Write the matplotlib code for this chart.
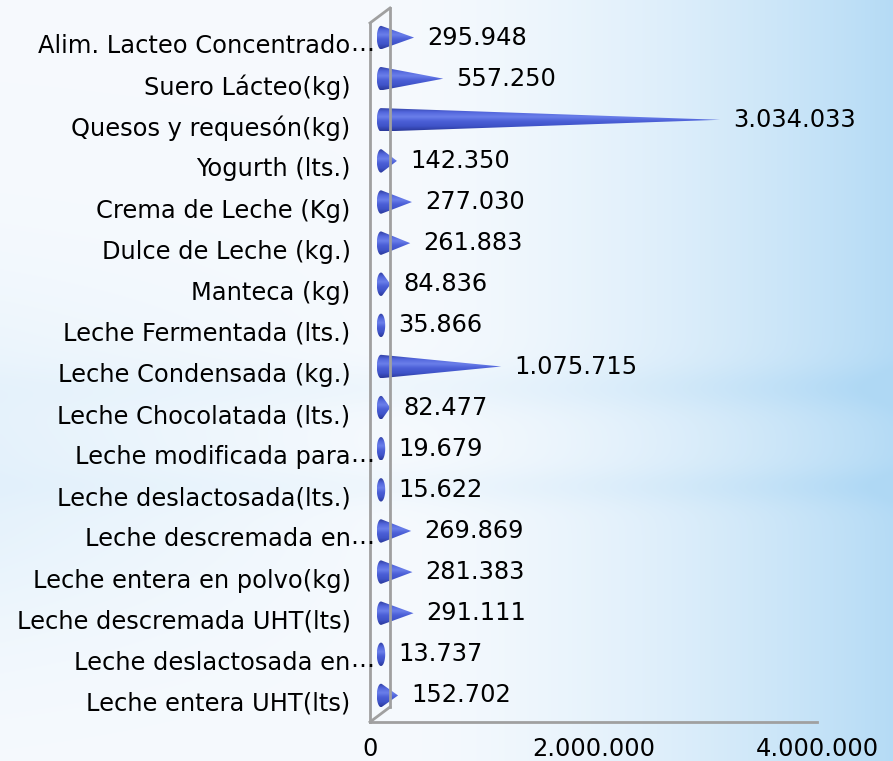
import numpy as np
import matplotlib
matplotlib.use("Agg")
import matplotlib.pyplot as plt
from matplotlib.colors import LinearSegmentedColormap
from matplotlib.patches import Polygon
from matplotlib.transforms import offset_copy

# data (bottom to top, as drawn)
productos = [
    "Leche entera UHT(lts)",
    "Leche deslactosada en…",
    "Leche descremada UHT(lts)",
    "Leche entera en polvo(kg)",
    "Leche descremada en…",
    "Leche deslactosada(lts.)",
    "Leche modificada para…",
    "Leche Chocolatada (lts.)",
    "Leche Condensada (kg.)",
    "Leche Fermentada (lts.)",
    "Manteca (kg)",
    "Dulce de Leche (kg.)",
    "Crema de Leche (Kg)",
    "Yogurth (lts.)",
    "Quesos y requesón(kg)",
    "Suero Lácteo(kg)",
    "Alim. Lacteo Concentrado…",
]
valores = [152702, 13737, 291111, 281383, 269869, 15622, 19679, 82477,
           1075715, 35866, 84836, 261883, 277030, 142350, 3034033, 557250,
           295948]
xticks = [0, 2000000, 4000000]

def miles(v):
    return f"{v:,.0f}".replace(",", ".")

W, H = 893, 761
fig = plt.figure(figsize=(W / 100, H / 100), dpi=100)

# background gradient (Y measured from the top)
bg = fig.add_axes([0, 0, 1, 1], zorder=-10)
xx = np.linspace(0, 1, 300)
yy = np.linspace(0, 1, 260)
X, Y = np.meshgrid(xx, yy)
t = 0.92 * np.clip((X - 0.42) / 0.58, 0, 1) ** 1.7
t = t + 0.25 * np.clip((0.45 - X) / 0.45, 0, 1) * np.exp(-((Y - 0.62) / 0.22) ** 2)
t = t + 0.14 * np.exp(-((Y - 0.51) / 0.03) ** 2) * (0.3 + X)
t = t + 0.12 * np.exp(-((Y - 0.64) / 0.025) ** 2) * (0.3 + X)
t = np.clip(t, 0, 1)
c0 = np.array([0.965, 0.98, 0.995])
c1 = np.array([0.69, 0.85, 0.96])
img = c0 + (c1 - c0) * t[..., None]
bg.imshow(img, extent=[0, 1, 0, 1], aspect="auto", origin="upper",
          interpolation="bilinear")
bg.axis("off")

font = "DejaVu Sans"
fs = 17.4
ax = fig.add_axes([370 / W, 39 / H, 447 / W, 699 / H])
ax.patch.set_alpha(0)
n = len(productos)
ax.set_xlim(0, 4000000)
ax.set_ylim(-0.5, n - 0.5)
for s in ax.spines.values():
    s.set_visible(False)

ax.set_xticks(xticks)
ax.set_xticklabels([miles(v) for v in xticks], fontsize=fs, family=font)
ax.set_yticks(range(n))
ax.set_yticklabels([p.rstrip("…") for p in productos], fontsize=fs, family=font)
ax.tick_params(axis="x", length=0, pad=11)
ax.tick_params(axis="y", length=0, pad=14)

# hanging ellipsis for truncated labels
lab_tr = offset_copy(ax.get_yaxis_transform(), fig=fig, x=-20, y=0, units="dots")
for i, p in enumerate(productos):
    if p.endswith("…"):
        ax.text(0, i, "…", transform=lab_tr, ha="left", va="center",
                fontsize=fs, family=font, clip_on=False)

fig.canvas.draw()
p0 = ax.transData.transform((0, 0))
p1 = ax.transData.transform((1, 1))
sx, sy = p1[0] - p0[0], p1[1] - p0[1]
rx, ry = 4.2 / sx, 11.7 / sy

# bars sit half-way into the 3d depth
dx, dy = 11, 6
bar_tr = offset_copy(ax.transData, fig=fig, x=dx, y=dy, units="dots")
lab_tr2 = offset_copy(ax.transData, fig=fig, x=dx + 13, y=dy, units="dots")
cmap = LinearSegmentedColormap.from_list(
    "cono", ["#2a389a", "#3f53c8", "#4a5ed6", "#6a7fea", "#5266dc", "#2e3c9e"])
grad = np.linspace(0, 1, 64)[:, None] * np.ones((1, 8))

for i, v in enumerate(valores):
    if v > rx:
        a0 = np.arccos(rx / v)
        ang = np.linspace(a0, 2 * np.pi - a0, 60)
        pts = np.column_stack([rx * np.cos(ang), i + ry * np.sin(ang)])
        pts = np.vstack([pts, [v, i]])
    else:
        ang = np.linspace(0, 2 * np.pi, 60)
        pts = np.column_stack([rx * np.cos(ang), i + ry * np.sin(ang)])
    cone = Polygon(pts, closed=True, transform=bar_tr, facecolor="none",
                   edgecolor="none")
    ax.add_patch(cone)
    im = ax.imshow(grad, cmap=cmap, extent=[-rx, max(v, rx), i - ry, i + ry],
                   transform=bar_tr, aspect="auto", origin="lower",
                   interpolation="bilinear", zorder=2)
    im.set_clip_path(cone)
    ax.text(max(v, rx), i, miles(v), transform=lab_tr2, ha="left",
            va="center", fontsize=fs, family=font, zorder=4)

ax.set_xlim(0, 4000000)
ax.set_ylim(-0.5, n - 0.5)

# 3d wall and floor
wall = "#a0a0a0"
ax.plot([0, 0], [0, 1], transform=ax.transAxes, color=wall, lw=2,
        clip_on=False, zorder=1)
ax.plot([0, 1], [0, 0], transform=ax.transAxes, color=wall, lw=2,
        clip_on=False, zorder=1)
back = offset_copy(ax.transAxes, fig=fig, x=20, y=15, units="dots")
ax.plot([0, 0], [0, 1], transform=back, color=wall, lw=2, clip_on=False,
        zorder=3)
for yv in (0, 1):
    a = ax.transAxes.transform((0, yv))
    ax.plot([a[0], a[0] + 20], [a[1], a[1] + 15], transform=None, color=wall,
            lw=2, clip_on=False, zorder=1)

fig.savefig("out.png", dpi=100)
